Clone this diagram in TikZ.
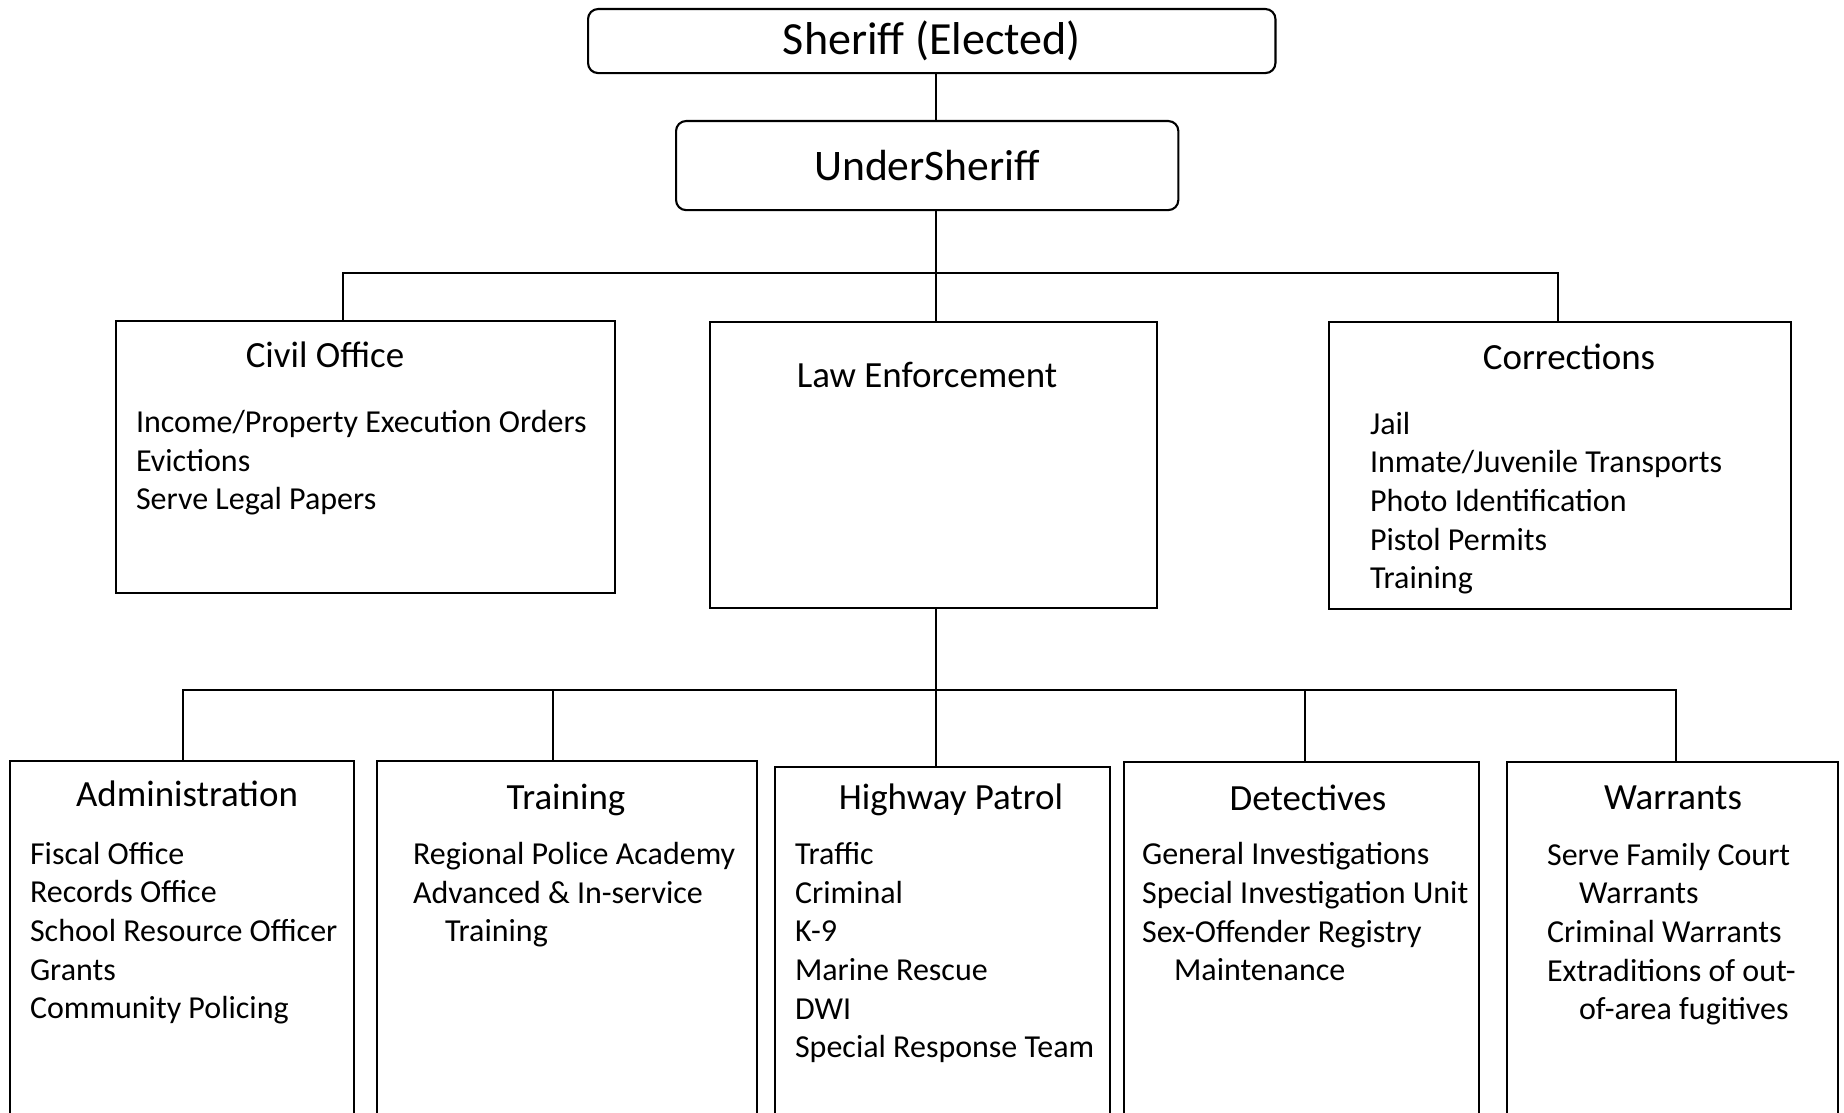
\documentclass[tikz,border=0pt]{standalone}
\usepackage{fontspec}
\setmainfont{Carlito}
\usetikzlibrary{positioning}

\tikzset{
	headbox/.style={draw, rounded corners=0.1cm, line width=0.6pt, anchor=north west, inner sep=0pt},
	unitbox/.style={draw, line width=0.6pt, anchor=north west, inner sep=0pt},
	unitname/.style={anchor=base, inner sep=0pt, font=\fontsize{10.5}{12.8}\selectfont},
	duties/.style={anchor=base west, inner sep=0pt, align=left, font=\fontsize{9.1}{11.0}\selectfont},
}
\newcommand{\hang}{\hspace*{1em}}

\begin{document}
\begin{tikzpicture}[x=0.01cm,y=-0.01cm,line width=0.6pt]

		\clip (0,0) rectangle (1844,1113);
		
		% top of the chart
		\node [headbox, minimum width=6.87cm, minimum height=0.64cm, font=\fontsize{13.1}{15}\selectfont] (sheriff) at (587,8) {Sheriff (Elected)};
		\node [headbox, minimum width=5.02cm, minimum height=0.89cm, font=\fontsize{12.4}{15}\selectfont] (under) at (675,120) {UnderSheriff};
		
		% divisions
		\node [unitbox, minimum width=4.99cm, minimum height=2.72cm] (civil) at (115,320) {};
		\node [unitbox, minimum width=4.47cm, minimum height=2.86cm] (law) at (709,321) {};
		\node [unitbox, minimum width=4.62cm, minimum height=2.87cm] (corr) at (1328,321) {};
		
		% units of law enforcement
		\node [unitbox, minimum width=3.44cm, minimum height=4cm] (admin) at (9,760) {};
		\node [unitbox, minimum width=3.80cm, minimum height=4cm] (train) at (376,760) {};
		\node [unitbox, minimum width=3.35cm, minimum height=4cm] (hwy) at (774,766) {};
		\node [unitbox, minimum width=3.55cm, minimum height=4cm] (det) at (1123,761) {};
		\node [unitbox, minimum width=3.31cm, minimum height=4cm] (warr) at (1506,761) {};
		
		\coordinate (trunk) at (936,0);
		\coordinate (bus1) at (936,273);
		\coordinate (civdrop) at (343,273);
		\coordinate (corrdrop) at (1558,273);
		\coordinate (bus2) at (936,690);
		\coordinate (d1) at (183,690);
		\coordinate (d2) at (553,690);
		\coordinate (d4) at (1305,690);
		\coordinate (d5) at (1676,690);
		
		\draw (sheriff.south -| trunk) -- (under.north -| trunk);
		\draw (under.south -| trunk) -- (law.north -| trunk);
		\draw (civil.north -| civdrop) |- (bus1) -| (corr.north -| corrdrop);
		
		\draw (law.south -| trunk) -- (hwy.north -| trunk);
		\draw (admin.north -| d1) |- (bus2) -| (warr.north -| d5);
		\draw (d2) -- (train.north -| d2);
		\draw (d4) -- (det.north -| d4);
		
		\node [unitname] (civilname) at (325,368) {Civil Office};
		\node [unitname] (lawname) at (927,388) {Law Enforcement};
		\node [unitname] (corrname) at (1569,370) {Corrections};
		
		% base of a list = base of its last line
		\node [duties] (civillist) at (135,510) {Income/Property Execution Orders\\Evictions\\Serve Legal Papers};
		\node [duties] (corrlist) at (1369,589) {Jail\\Inmate/Juvenile Transports\\Photo Identification\\Pistol Permits\\Training};
		
		\node [unitname] (adminname) at (187,807) {Administration};
		\node [unitname] (trainname) at (566,810) {Training};
		\node [unitname] (hwyname) at (951,810) {Highway Patrol};
		\node [unitname] (detname) at (1308,811) {Detectives};
		\node [unitname] (warrname) at (1673,810) {Warrants};
		
		\node [duties] (adminlist) at (29,1019) {Fiscal Office\\Records Office\\School Resource Officer\\Grants\\Community Policing};
		\node [duties] (trainlist) at (412,942) {Regional Police Academy\\Advanced \& In-service\\\hang Training};
		\node [duties] (hwylist) at (794,1058) {Traffic\\Criminal\\K-9\\Marine Rescue\\DWI\\Special Response Team};
		\node [duties] (detlist) at (1141,981) {General Investigations\\Special Investigation Unit\\Sex-Offender Registry\\\hang Maintenance};
		\node [duties] (warrlist) at (1546,1020) {Serve Family Court\\\hang Warrants\\Criminal Warrants\\Extraditions of out-\\\hang of-area fugitives};
		
\end{tikzpicture}
\end{document}
